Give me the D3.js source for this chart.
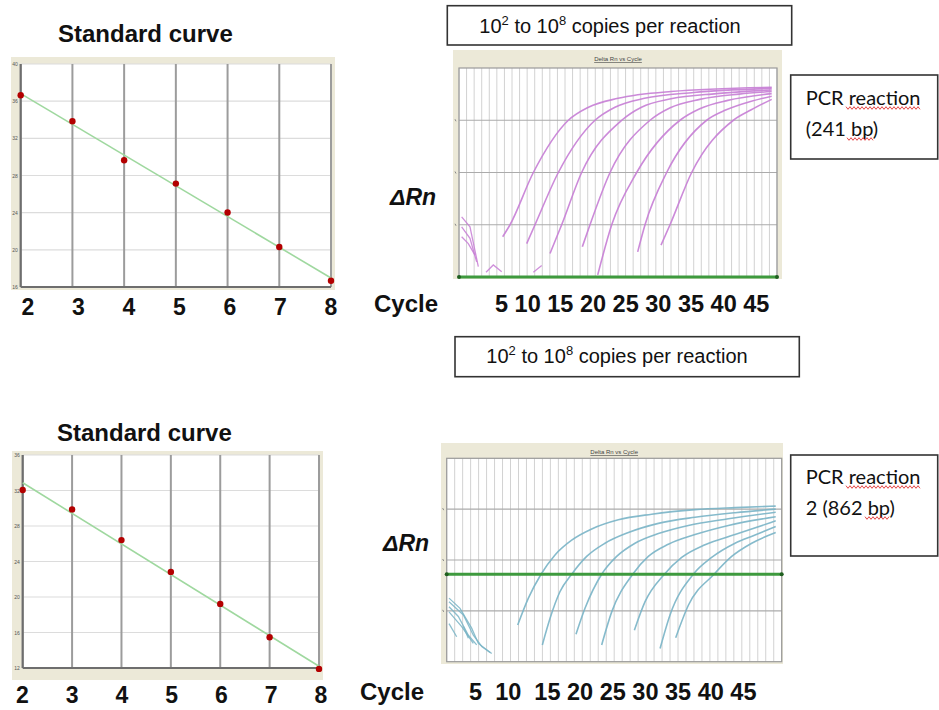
<!DOCTYPE html>
<html><head><meta charset="utf-8">
<script src="https://cdn.jsdelivr.net/npm/d3@7/dist/d3.min.js"></script>
<style>body{margin:0;background:#fff}svg{display:block}</style>
</head><body>
<svg id="c" width="939" height="710"></svg>
<script>
// ---------------- DATA ----------------
const stdDilutions = [2, 3, 4, 5, 6, 7, 8];               // log10 copies
const std1Ct = [36.63, 33.84, 29.64, 27.13, 24.01, 20.30, 16.68];
const std2Ct = [32.05, 29.87, 26.41, 22.83, 19.22, 15.46, 11.90];
const std1YTicks = [16, 20, 24, 28, 32, 36, 40];
const std2YTicks = [12, 16, 20, 24, 28, 32, 36];
const cycleLabels = [5, 10, 15, 20, 25, 30, 35, 40, 45];
const ampGridCycles = d3.range(0, 43);   // one grid line per cycle
const ampGridLevels = [1, 2, 3];

// amplification curves, reaction 1 (241 bp): [cycle, log dRn level]
const amp1Curves = [
  [[5.77,0.77],[6.74,1.0],[9.82,2.0],[14.44,3.0],[17.1,3.25],[21.0,3.42],[28.0,3.55],[41.3,3.63]],
  [[8.94,0.64],[10.04,1.0],[13.12,2.0],[17.96,3.0],[20.6,3.25],[24.5,3.42],[31.0,3.53],[41.3,3.61]],
  [[12.02,0.45],[13.56,1.0],[16.2,2.0],[21.49,3.0],[24.1,3.25],[28.0,3.41],[34.0,3.51],[41.3,3.58]],
  [[16.29,0.58],[17.3,1.0],[19.95,2.0],[25.23,3.0],[27.9,3.24],[31.8,3.40],[37.0,3.50],[41.3,3.55]],
  [[18.32,0.04],[20.17,1.0],[23.47,2.0],[29.19,3.0],[31.8,3.22],[35.5,3.38],[41.3,3.51]],
  [[23.6,0.48],[24.57,1.0],[27.43,2.0],[32.71,3.0],[35.3,3.20],[38.5,3.36],[41.3,3.46]],
  [[26.68,0.61],[27.87,1.0],[30.73,2.0],[36.24,3.0],[38.6,3.20],[41.3,3.40]]
];
const amp1Noise = [
  [[0.35,1.15],[1.45,0.96],[2.55,0.20]],
  [[0.35,0.96],[1.45,0.74],[2.33,0.29]],
  [[0.35,0.77],[1.23,0.64],[2.11,0.42]],
  [[3.57,0.09],[4.53,0.23],[5.64,0.10]],
  [[9.82,0.09],[10.92,0.22]]
];
const amp1Threshold = 0.0;

// amplification curves, reaction 2 (862 bp)
const amp2Curves = [
  [[8.90,0.72],[10.24,1.25],[11.83,1.72],[13.58,2.10],[15.67,2.39],[18.18,2.61],[21.52,2.79],[25.7,2.90],[31.13,2.99],[36.15,3.03],[41.25,3.06]],
  [[11.99,0.33],[12.95,0.85],[14.21,1.38],[15.67,1.72],[17.55,2.07],[19.85,2.33],[22.78,2.54],[26.54,2.72],[31.13,2.84],[36.15,2.93],[41.25,3.00]],
  [[16.21,0.54],[17.34,1.05],[19.43,1.72],[21.31,2.07],[23.61,2.33],[26.54,2.52],[30.3,2.68],[35.31,2.81],[41.25,2.94]],
  [[19.43,0.33],[20.69,0.98],[23.32,1.72],[25.28,2.07],[27.79,2.31],[31.13,2.50],[35.31,2.68],[41.25,2.85]],
  [[23.53,0.62],[24.87,1.18],[27.29,1.72],[29.46,2.05],[32.39,2.30],[36.15,2.50],[41.25,2.77]],
  [[26.75,0.26],[28.0,0.92],[30.92,1.72],[33.22,2.05],[36.15,2.33],[38.66,2.49],[41.25,2.66]],
  [[28.71,0.47],[30.3,1.11],[33.52,1.72],[35.73,2.07],[38.24,2.33],[41.25,2.54]]
];
const amp2Noise = [
  [[0.29,1.25],[1.67,1.05],[3.13,0.66],[3.97,0.36],[5.64,0.16]],
  [[0.29,1.18],[2.09,0.92],[3.34,0.52],[4.39,0.30],[5.43,0.18]],
  [[0.29,1.08],[1.46,0.89],[2.72,0.52],[3.76,0.33]],
  [[0.29,0.98],[1.88,0.69],[3.34,0.36]],
  [[0.29,0.75],[1.25,0.49]],
  [[2.09,0.69],[2.72,0.46]]
];
const amp2Threshold = 1.72;

// ---------------- DRAWING ----------------
const svg = d3.select("#c");
const ARIAL = "'Liberation Sans', Arial, sans-serif";
const CALIBRI = "Lato, 'Open Sans', sans-serif";
const BEIGE = "#ece9d8";

function stdCurve(cfg, ct, yTicks) {
  const g = svg.append("g");
  const x = d3.scaleLinear().domain([2, 8]).range([cfg.x0, cfg.x1]);
  const y = d3.scaleLinear().domain([yTicks[0], yTicks[yTicks.length - 1]]).range([cfg.y1, cfg.y0]);
  g.append("rect").attr("x", cfg.fx).attr("y", cfg.fy).attr("width", cfg.fw).attr("height", cfg.fh).attr("fill", BEIGE);
  g.append("rect").attr("x", cfg.x0).attr("y", cfg.y0).attr("width", cfg.x1 - cfg.x0).attr("height", cfg.y1 - cfg.y0).attr("fill", "#fff");
  g.selectAll(".hg").data(yTicks).join("line")
    .attr("x1", cfg.x0).attr("x2", cfg.x1).attr("y1", d => y(d)).attr("y2", d => y(d))
    .attr("stroke", "#dcdcdc").attr("stroke-width", 1.2);
  g.selectAll(".vg").data(stdDilutions).join("line")
    .attr("x1", d => x(d)).attr("x2", d => x(d)).attr("y1", cfg.y0).attr("y2", cfg.y1)
    .attr("stroke", "#9c9c9c").attr("stroke-width", 2);
  g.append("line").attr("x1", cfg.x0).attr("x2", cfg.x0).attr("y1", cfg.y0).attr("y2", cfg.y1).attr("stroke", "#6e6e6e").attr("stroke-width", 2);
  g.append("line").attr("x1", cfg.x0).attr("x2", cfg.x1).attr("y1", cfg.y1).attr("y2", cfg.y1).attr("stroke", "#6e6e6e").attr("stroke-width", 2);
  g.selectAll(".yl").data(yTicks).join("text")
    .attr("x", cfg.x0 - 3).attr("y", d => y(d) + 2).attr("text-anchor", "end")
    .attr("font-family", ARIAL).attr("font-size", 5).attr("fill", "#555").text(d => d);
  // least-squares fit line
  const mx = d3.mean(stdDilutions), my = d3.mean(ct);
  const slope = d3.sum(stdDilutions, (d, i) => (d - mx) * (ct[i] - my)) / d3.sum(stdDilutions, d => (d - mx) * (d - mx));
  const fit = v => my + slope * (v - mx);
  g.append("line").attr("x1", x(2)).attr("y1", y(fit(2))).attr("x2", x(8)).attr("y2", y(fit(8)))
    .attr("stroke", "#9fd89f").attr("stroke-width", 1.6);
  g.selectAll(".pt").data(stdDilutions).join("circle")
    .attr("cx", d => x(d)).attr("cy", (d, i) => y(ct[i])).attr("r", 3.2).attr("fill", "#b30000");
  const lx = d3.scaleLinear().domain([2, 8]).range(cfg.labelRange);
  g.selectAll(".xl").data(stdDilutions).join("text")
    .attr("x", d => lx(d)).attr("y", cfg.labelY).attr("text-anchor", "middle")
    .attr("font-family", ARIAL).attr("font-weight", "bold").attr("font-size", 23).attr("fill", "#111").text(d => d);
  g.append("text").attr("x", cfg.titleX).attr("y", cfg.titleY)
    .attr("font-family", ARIAL).attr("font-weight", "bold").attr("font-size", 24).attr("fill", "#111").text("Standard curve");
}

function ampPlot(cfg, curves, noise, color, thr, id) {
  const g = svg.append("g");
  const x = d3.scaleLinear().domain([0, 42]).range([cfg.x0, cfg.x1]);
  const y = d3.scaleLinear().domain([0, 4]).range([cfg.y1, cfg.y0]);
  g.append("rect").attr("x", cfg.fx).attr("y", cfg.fy).attr("width", cfg.fw).attr("height", cfg.fh).attr("fill", BEIGE);
  g.append("text").attr("x", (cfg.x0 + cfg.x1) / 2).attr("y", cfg.fy + 11).attr("text-anchor", "middle")
    .attr("font-family", ARIAL).attr("font-size", 6).attr("fill", "#444")
    .attr("text-decoration", "underline").text("Delta Rn vs Cycle");
  g.append("rect").attr("x", cfg.x0).attr("y", cfg.y0).attr("width", cfg.x1 - cfg.x0).attr("height", cfg.y1 - cfg.y0).attr("fill", "#fff");
  g.selectAll(".vg").data(ampGridCycles).join("line")
    .attr("x1", d => x(d)).attr("x2", d => x(d)).attr("y1", cfg.y0).attr("y2", cfg.y1)
    .attr("stroke", "#d2d2d2").attr("stroke-width", 1);
  g.selectAll(".hg").data(ampGridLevels).join("line")
    .attr("x1", cfg.x0).attr("x2", cfg.x1).attr("y1", d => y(d)).attr("y2", d => y(d))
    .attr("stroke", "#ababab").attr("stroke-width", 1.2);
  g.selectAll(".tk").data(ampGridLevels).join("line")
    .attr("x1", cfg.x0 - 4).attr("x2", cfg.x0 - 3).attr("y1", d => y(d) - 1).attr("y2", d => y(d) + 1)
    .attr("stroke", "#888").attr("stroke-width", 1);
  g.append("rect").attr("x", cfg.x0).attr("y", cfg.y0).attr("width", cfg.x1 - cfg.x0).attr("height", cfg.y1 - cfg.y0)
    .attr("fill", "none").attr("stroke", "#9a9a9a").attr("stroke-width", 1.2);
  svg.append("clipPath").attr("id", id).append("rect")
    .attr("x", cfg.x0).attr("y", cfg.y0 - 2).attr("width", cfg.x1 - cfg.x0).attr("height", cfg.y1 - cfg.y0 + 4);
  const line = d3.line().x(d => x(d[0])).y(d => y(d[1])).curve(d3.curveMonotoneX);
  const cg = g.append("g").attr("clip-path", `url(#${id})`);
  cg.selectAll(".cv").data(curves).join("path").attr("d", line)
    .attr("fill", "none").attr("stroke", color).attr("stroke-width", 1.6).attr("stroke-opacity", 0.9);
  const nline = d3.line().x(d => x(d[0])).y(d => y(d[1]));
  cg.selectAll(".nz").data(noise).join("path").attr("d", nline)
    .attr("fill", "none").attr("stroke", color).attr("stroke-width", 1.3).attr("stroke-opacity", 0.85);
  g.append("line").attr("x1", cfg.x0).attr("x2", cfg.x1).attr("y1", y(thr)).attr("y2", y(thr))
    .attr("stroke", "#3e9a3e").attr("stroke-width", 3);
  g.selectAll(".td").data([0, 42]).join("circle").attr("cx", d => x(d)).attr("cy", y(thr)).attr("r", 2)
    .attr("fill", "#1f5f1f");
  // ΔRn label
  g.append("text").attr("x", cfg.drX).attr("y", cfg.drY)
    .attr("font-family", ARIAL).attr("font-weight", "bold").attr("font-style", "italic")
    .attr("font-size", 23).attr("fill", "#111").text("ΔRn");
  // Cycle label row
  g.append("text").attr("x", cfg.cycX).attr("y", cfg.cycY)
    .attr("font-family", ARIAL).attr("font-weight", "bold").attr("font-size", 24).attr("fill", "#111").text("Cycle");
  g.append("text").attr("x", cfg.numX).attr("y", cfg.cycY).attr("xml:space", "preserve").style("white-space", "pre")
    .attr("font-family", ARIAL).attr("font-weight", "bold").attr("font-size", 23.5).attr("fill", "#111")
    .text(cycleLabels.map((d, i) => d + (i < cycleLabels.length - 1 ? (i < cfg.wideGaps ? "  " : " ") : "")).join(""));
}

function copiesBox(bx, by, bw, bh, cx, base) {
  svg.append("rect").attr("x", bx).attr("y", by).attr("width", bw).attr("height", bh)
    .attr("fill", "#fff").attr("stroke", "#333").attr("stroke-width", 1.6);
  const t = svg.append("text").attr("x", cx).attr("y", base).attr("text-anchor", "middle")
    .attr("font-family", ARIAL).attr("font-size", 20).attr("fill", "#111");
  t.append("tspan").text("10");
  t.append("tspan").attr("dy", -8).attr("font-size", 13).text("2");
  t.append("tspan").attr("dy", 8).text(" to 10");
  t.append("tspan").attr("dy", -8).attr("font-size", 13).text("8");
  t.append("tspan").attr("dy", 8).text(" copies per reaction");
}

function squiggle(x0, x1, yy) {
  const pts = [];
  for (let xx = x0, k = 0; xx <= x1; xx += 2, k++) pts.push([xx, yy + (k % 2 ? 1.3 : -1.3)]);
  svg.append("path").attr("d", d3.line()(pts)).attr("fill", "none").attr("stroke", "#e03030").attr("stroke-width", 0.9);
}

function pcrBox(bx, by, bw, bh, line1, line2, base1, base2, sq) {
  svg.append("rect").attr("x", bx).attr("y", by).attr("width", bw).attr("height", bh)
    .attr("fill", "#fff").attr("stroke", "#333").attr("stroke-width", 1.6);
  svg.append("text").attr("x", bx + 15).attr("y", base1).attr("font-family", CALIBRI).attr("font-size", 20).attr("fill", "#111").text(line1);
  svg.append("text").attr("x", bx + 15).attr("y", base2).attr("font-family", CALIBRI).attr("font-size", 20).attr("fill", "#111").text(line2);
  sq.forEach(s => squiggle(s[0], s[1], s[2]));
}

stdCurve({fx: 11, fy: 57, fw: 324, fh: 233, x0: 20.7, x1: 331, y0: 64, y1: 287,
          labelRange: [28, 331], labelY: 315, titleX: 58, titleY: 42}, std1Ct, std1YTicks);
stdCurve({fx: 12, fy: 451, fw: 311, fh: 229, x0: 22.7, x1: 319, y0: 455, y1: 668,
          labelRange: [22.5, 321], labelY: 703, titleX: 57, titleY: 441}, std2Ct, std2YTicks);

ampPlot({fx: 453, fy: 50, fw: 329, fh: 229, x0: 459, x1: 777, y0: 68, y1: 277,
         drX: 390, drY: 205, cycX: 374, cycY: 312, numX: 495, wideGaps: 0},
        amp1Curves, amp1Noise, "#c77dd5", amp1Threshold, "clipA");
ampPlot({fx: 441, fy: 443, fw: 342, fh: 221, x0: 446.7, x1: 781.7, y0: 458.3, y1: 661.7,
         drX: 383, drY: 551, cycX: 360, cycY: 700, numX: 469, wideGaps: 2},
        amp2Curves, amp2Noise, "#79b4c6", amp2Threshold, "clipB");

copiesBox(447.3, 5.7, 344.4, 39.3, 610, 32.7);
copiesBox(455, 336.7, 344.3, 40, 617, 363.3);
pcrBox(790.7, 75, 147, 84, "PCR reaction", "(241 bp)", 105, 136, [[846, 920, 108], [847, 873, 139]]);
pcrBox(790.7, 455, 147, 101, "PCR reaction", "2 (862 bp)", 484, 515, [[846, 920, 487], [865, 890, 518]]);
</script>
</body></html>
